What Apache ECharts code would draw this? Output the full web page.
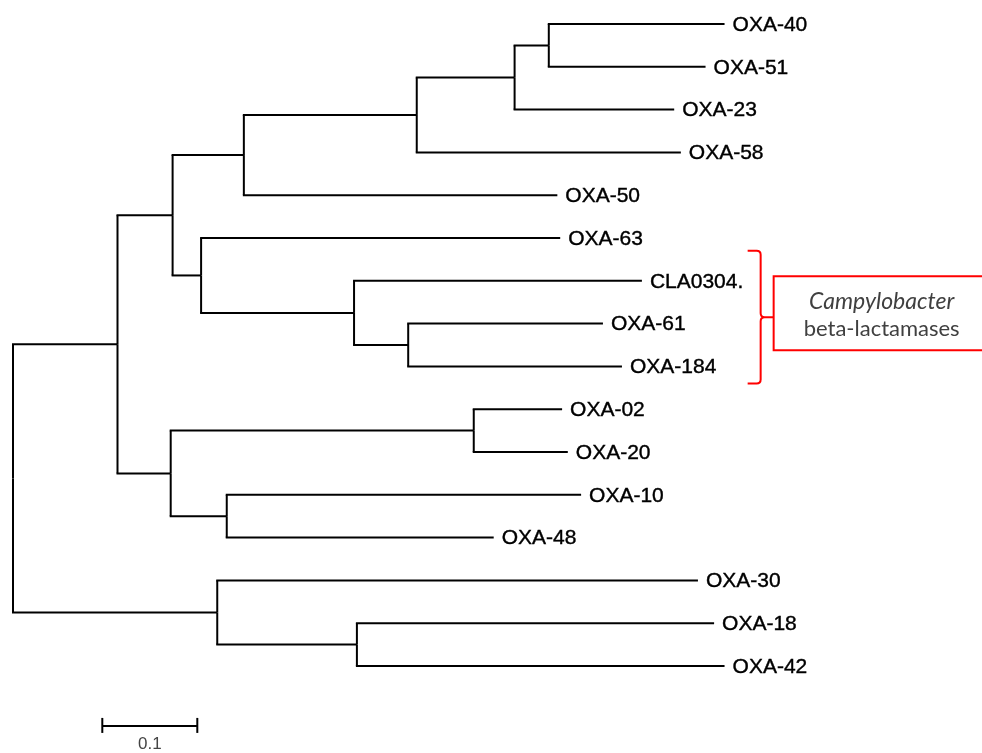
<!DOCTYPE html>
<html>
<head>
<meta charset="utf-8">
<script src="https://cdn.jsdelivr.net/npm/echarts@6/dist/echarts.min.js"></script>
<style>
  html, body { margin: 0; padding: 0; background: #ffffff; }
  #chart { width: 982px; height: 753px; }
</style>
</head>
<body>
<div id="chart"></div>
<script>
// ---- Tree data (branch lengths in substitutions per site) ----
const leafOrder = ['OXA-40','OXA-51','OXA-23','OXA-58','OXA-50','OXA-63','CLA0304.','OXA-61','OXA-184',
                   'OXA-02','OXA-20','OXA-10','OXA-48','OXA-30','OXA-18','OXA-42'];
const nodeIds = ['n1','n2','n3','n4','n5','n6','n7','n8','n9',
                 'OXA-40','OXA-51','OXA-23','OXA-58','OXA-50','OXA-63',
                 'n10','CLA0304.','n11','OXA-61','OXA-184',
                 'n12','OXA-02','OXA-20','n13','OXA-10','OXA-48',
                 'OXA-30','n14','OXA-18','OXA-42'];
const parentIds = ['root','root','n1','n1','n3','n3','n5','n7','n8',
                   'n9','n9','n8','n7','n5','n6',
                   'n6','n10','n10','n11','n11',
                   'n4','n12','n12','n4','n13','n13',
                   'n2','n2','n14','n14'];
const branchLengths = [0.110,0.215,0.058,0.056,0.075,0.030,0.182,0.103,0.036,
                       0.185,0.165,0.168,0.278,0.330,0.378,
                       0.161,0.303,0.057,0.205,0.225,
                       0.319,0.093,0.099,0.059,0.373,0.281,
                       0.506,0.147,0.376,0.387];
// scale bar
const scaleBarLength = [0.1];
const scaleBarLabel = ['0.1'];
// annotation
const cladeFirst = 'CLA0304.';
const cladeLast = 'OXA-184';
const annotationItalic = 'Campylobacter';
const annotationText = 'beta-lactamases';

// ---- derive node depths and rows ----
const depth = { root: 0 };
const children = {};
nodeIds.forEach((id, i) => {
  (children[parentIds[i]] = children[parentIds[i]] || []).push(id);
});
function calcDepth(id) {
  if (depth[id] !== undefined) return depth[id];
  const i = nodeIds.indexOf(id);
  depth[id] = calcDepth(parentIds[i]) + branchLengths[i];
  return depth[id];
}
nodeIds.forEach(calcDepth);
const row = {};
function calcRow(id) {
  if (row[id] !== undefined) return row[id];
  if (!children[id]) { row[id] = leafOrder.indexOf(id); return row[id]; }
  const rs = children[id].map(calcRow);
  row[id] = (Math.min.apply(null, rs) + Math.max.apply(null, rs)) / 2;
  return row[id];
}
calcRow('root');

const edgeData = nodeIds.map((id, i) => {
  const p = parentIds[i];
  return [depth[p], depth[id], row[id], row[p], children[id] ? '' : id];
});

const chart = echarts.init(document.getElementById('chart'), null, { renderer: 'canvas' });
const LINE = { stroke: '#000000', lineWidth: 2 };

chart.setOption({
  backgroundColor: '#ffffff',
  animation: false,
  grid: { left: 13, right: 19, top: 24, bottom: 1.4 },
  xAxis: { type: 'value', min: 0, max: 1, show: false },
  yAxis: { type: 'value', min: 0, max: 17, inverse: true, show: false },
  series: [
    {
      type: 'custom',
      coordinateSystem: 'cartesian2d',
      clip: false,
      data: edgeData,
      renderItem: function (params, api) {
        const px = api.value(0), x = api.value(1), y = api.value(2), py = api.value(3);
        const label = edgeData[params.dataIndex][4];
        const a = api.coord([px, y]);
        const b = api.coord([x, y]);
        const c = api.coord([px, py]);
        const items = [
          { type: 'line', shape: { x1: c[0], y1: c[1], x2: a[0], y2: a[1] }, style: LINE },
          { type: 'line', shape: { x1: a[0] - 1, y1: a[1], x2: b[0], y2: b[1] }, style: LINE }
        ];
        if (label) {
          items.push({
            type: 'text',
            x: b[0] + 8, y: b[1] + 1,
            style: {
              text: label, fill: '#000000', stroke: '#000000', lineWidth: 0.4,
              font: '21px "Liberation Sans", Arial, sans-serif',
              verticalAlign: 'middle', align: 'left'
            }
          });
        }
        return { type: 'group', children: items };
      }
    },
    {
      type: 'custom',
      coordinateSystem: 'cartesian2d',
      clip: false,
      data: [[0.094, 16.4, scaleBarLength[0]]],
      renderItem: function (params, api) {
        const s = api.coord([api.value(0), api.value(1)]);
        const e = api.coord([api.value(0) + api.value(2), api.value(1)]);
        return {
          type: 'group',
          children: [
            { type: 'line', shape: { x1: s[0], y1: s[1], x2: e[0], y2: e[1] }, style: LINE },
            { type: 'line', shape: { x1: s[0], y1: s[1] - 8, x2: s[0], y2: s[1] + 7 }, style: LINE },
            { type: 'line', shape: { x1: e[0], y1: e[1] - 8, x2: e[0], y2: e[1] + 7 }, style: LINE },
            {
              type: 'text', x: (s[0] + e[0]) / 2, y: s[1] + 10,
              style: {
                text: scaleBarLabel[0], fill: '#444444',
                font: '17px "Liberation Sans", Arial, sans-serif',
                align: 'center', verticalAlign: 'top'
              }
            }
          ]
        };
      }
    },
    {
      type: 'custom',
      coordinateSystem: 'cartesian2d',
      clip: false,
      data: [[0.787, leafOrder.indexOf(cladeFirst) - 0.7, leafOrder.indexOf(cladeLast) + 0.4]],
      renderItem: function (params, api) {
        const top = api.coord([api.value(0), api.value(1)]);
        const bot = api.coord([api.value(0), api.value(2)]);
        const x = top[0];
        const yt = top[1], yb = bot[1];
        const ym = (yt + yb) / 2;
        const RED = { stroke: '#ff0000', lineWidth: 2, fill: null };
        const bx = x + 13;
        const path =
          'M' + (x - 13) + ' ' + yt +
          ' L' + (x - 4) + ' ' + yt +
          ' Q' + x + ' ' + yt + ' ' + x + ' ' + (yt + 4) +
          ' L' + x + ' ' + (ym - 4) +
          ' Q' + x + ' ' + ym + ' ' + (x + 4) + ' ' + ym +
          ' L' + bx + ' ' + ym +
          ' M' + (x + 4) + ' ' + ym +
          ' Q' + x + ' ' + ym + ' ' + x + ' ' + (ym + 4) +
          ' L' + x + ' ' + (yb - 4) +
          ' Q' + x + ' ' + yb + ' ' + (x - 4) + ' ' + yb +
          ' L' + (x - 13) + ' ' + yb;
        const boxTop = ym - 41, boxH = 74;
        return {
          type: 'group',
          children: [
            { type: 'path', shape: { pathData: path }, style: RED },
            { type: 'rect', shape: { x: bx, y: boxTop, width: 240, height: boxH },
              style: { stroke: '#ff0000', lineWidth: 2, fill: '#ffffff' } },
            { type: 'text', x: bx + 108, y: boxTop + 25,
              style: { text: annotationItalic, fill: '#404040',
                font: 'italic 23px Lato, "Open Sans", sans-serif',
                align: 'center', verticalAlign: 'middle' } },
            { type: 'text', x: bx + 108, y: boxTop + 53,
              style: { text: annotationText, fill: '#404040',
                font: '22px Lato, "Open Sans", sans-serif',
                align: 'center', verticalAlign: 'middle' } }
          ]
        };
      }
    }
  ]
});
</script>
</body>
</html>
